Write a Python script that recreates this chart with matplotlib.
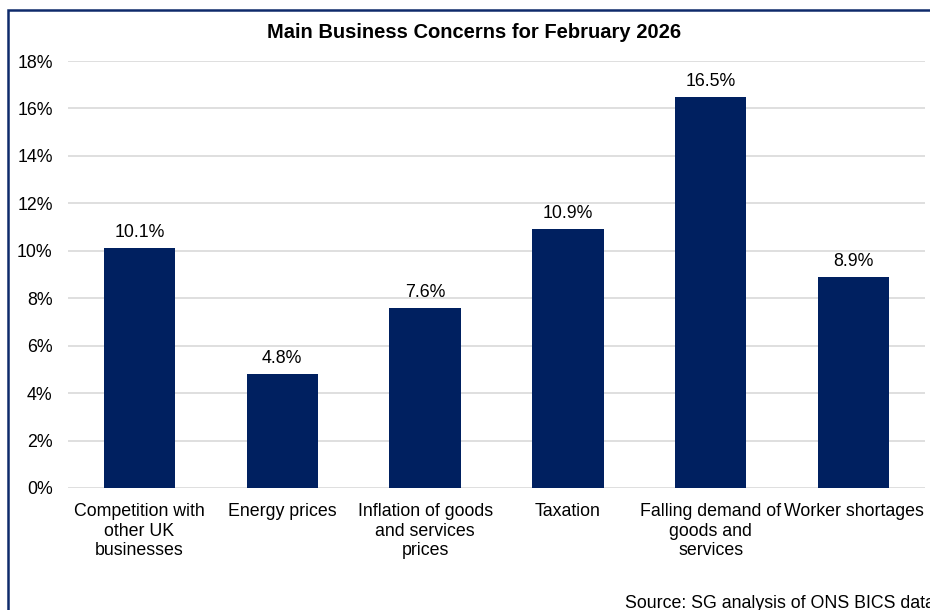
import matplotlib.pyplot as plt
from matplotlib.patches import Rectangle
from matplotlib.ticker import FuncFormatter

plt.rcParams['font.family'] = ['Liberation Sans', 'DejaVu Sans']

categories = [
    "Competition with\nother UK\nbusinesses",
    "Energy prices",
    "Inflation of goods\nand services\nprices",
    "Taxation",
    "Falling demand of\ngoods and\nservices",
    "Worker shortages",
]
values = [10.1, 4.8, 7.6, 10.9, 16.5, 8.9]
yticks = [0, 2, 4, 6, 8, 10, 12, 14, 16, 18]

bar_color = "#002060"
grid_color = "#d9d9d9"
fs = 12.8

fig = plt.figure(figsize=(9.3, 6.1), dpi=100)
ax = fig.add_axes([68 / 930, 1 - 488 / 610, 857 / 930, 427 / 610])

x = range(len(categories))
bars = ax.bar(x, values, width=0.5, color=bar_color, zorder=3)
for b, v in zip(bars, values):
    ax.annotate(f"{v:.1f}%", (b.get_x() + b.get_width() / 2, v),
                xytext=(0, 5), textcoords="offset points",
                ha="center", va="bottom", fontsize=fs, color="#000000")

ax.set_xlim(-0.5, len(categories) - 0.5)
ax.set_ylim(0, 18)
ax.set_yticks(yticks)
ax.yaxis.set_major_formatter(FuncFormatter(lambda v, _: f"{v:.0f}%"))
ax.set_xticks(list(x))
ax.set_xticklabels(categories, linespacing=1.2)
ax.tick_params(axis="both", length=0, labelsize=fs, colors="#000000")
ax.tick_params(axis="y", pad=11)
ax.tick_params(axis="x", pad=11)
ax.grid(axis="y", color=grid_color, linewidth=1.2, zorder=0)
for s in ax.spines.values():
    s.set_visible(False)

fig.text(474 / 930, 1 - 32 / 610, "Main Business Concerns for February 2026",
         ha="center", va="center", fontsize=14.5, fontweight="bold")
fig.text(625 / 930, 1 - 603 / 610, "Source: SG analysis of ONS BICS data",
         ha="left", va="center", fontsize=fs)

# outer frame, running past the right and bottom edges
fig.patches.append(Rectangle((8 / 930, -0.1), 1.2, 1 - 10 / 610 + 0.1,
                             transform=fig.transFigure, fill=False,
                             edgecolor="#0e2a6b", linewidth=1.8,
                             clip_on=False))

fig.savefig("out.png", dpi=100)
